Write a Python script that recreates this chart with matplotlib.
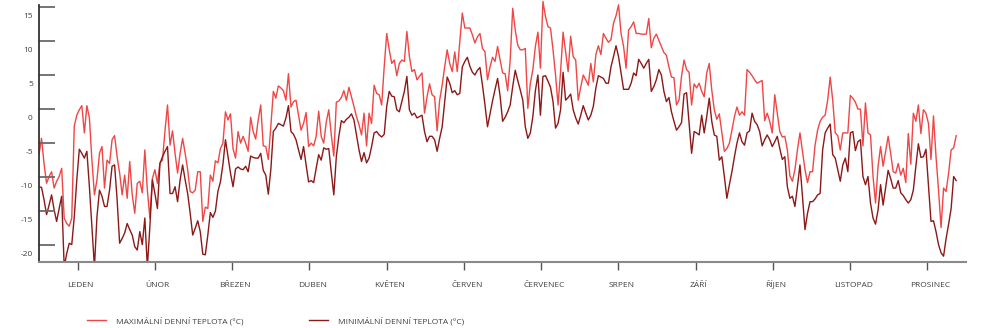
import numpy as np
import matplotlib
matplotlib.use("Agg")
import matplotlib.pyplot as plt
from matplotlib.lines import Line2D
from matplotlib.transforms import blended_transform_factory, ScaledTranslation

plt.rcParams['font.family'] = ['Open Sans', 'DejaVu Sans']

months = ["LEDEN", "ÚNOR", "BŘEZEN", "DUBEN", "KVĚTEN", "ČERVEN",
          "ČERVENEC", "SRPEN", "ZÁŘÍ", "ŘÍJEN", "LISTOPAD", "PROSINEC"]
y_ticks = [-20, -15, -10, -5, 0, 5, 10, 15]
series_labels = ["MAXIMÁLNÍ DENNÍ TEPLOTA (°C)", "MINIMÁLNÍ DENNÍ TEPLOTA (°C)"]

tmax = [
    -5.5, -3.1, -6.8, -9.7, -8.7, -8.0, -10.4, -9.4, -8.7, -7.5,
    -14.8, -15.6, -16.0, -14.8, -1.3, 0.3, 1.1, 1.7, -2.3, 1.7,
    -0.1, -6.3, -11.4, -9.2, -5.3, -4.3, -10.4, -6.3, -6.8, -3.3,
    -2.7, -5.8, -8.2, -11.4, -8.5, -11.9, -6.5, -11.4, -14.1, -9.7,
    -9.4, -11.1, -4.8, -10.7, -14.8, -9.0, -7.7, -9.7, -6.7, -6.3,
    -2.0, 1.8, -4.1, -2.0, -5.3, -8.2, -5.3, -3.1, -5.3, -7.7,
    -10.9, -11.1, -10.7,
    -8.0, -8.0, -15.3, -13.2, -13.4, -8.5, -9.4, -6.4, -6.7, -4.6,
    -3.8, 0.8, -0.4, 0.5, -4.6, -6.0, -2.1, -3.8, -2.8, -3.8,
    -5.0, 0.0, -2.1, -3.2, -0.4, 1.8, -4.2, -4.3, -6.2, -1.4,
    3.8, 2.8, 4.6, 4.3, 3.9, 2.5, 6.4, 1.5, 2.3, 2.5,
    0.3, -1.9, -0.9, 0.7, -4.3, -3.8, -4.2, -2.8, 0.9, -2.8,
    -3.8, -0.7, 1.1, -2.6, -5.7, 2.2, 2.4, 2.9, 3.9, 2.5,
    4.4,
    3.0, 1.6, 0.1, -1.1, -2.6, 0.6, -4.2, 0.6, -0.9, 4.7,
    3.5, 3.3, 1.8, 7.4, 12.3, 9.9, 7.9, 8.4, 6.1, 7.9,
    8.4, 8.2, 12.6, 8.9, 6.7, 7.0, 5.5, 6.0, 6.5, 0.6,
    3.0, 4.9, 3.3, 3.0, -2.0, 2.5, 4.7, 7.4, 9.9, 7.9,
    6.7, 9.6, 6.7, 11.1, 15.3, 13.1, 13.1, 13.1, 12.1, 10.9,
    11.8, 12.3, 10.1, 9.6, 5.5, 7.4, 8.8, 8.2, 10.4, 8.4,
    6.5, 6.4,
    3.9, 8.4, 16.0, 12.8, 10.6, 9.9, 9.9, 10.1, 1.3, 5.0,
    7.0, 10.4, 12.5, 7.2, 17.0, 14.8, 13.3, 13.1, 9.9, 6.2,
    1.8, 6.7, 12.5, 9.6, 6.7, 11.9, 8.9, 8.4, 2.5, 4.4,
    6.2, 5.5, 4.7, 7.9, 5.2, 9.2, 10.5, 9.2, 12.3, 11.6,
    11.0, 11.4, 13.8, 14.9, 16.5, 12.3, 10.4, 7.2, 12.8, 13.3,
    14.0, 12.3, 12.3, 12.2, 12.2, 12.2, 14.5, 10.2, 11.6, 12.2,
    11.3,
    10.4, 9.5, 9.1, 7.4, 5.9, 5.8, 1.8, 2.5, 6.0, 8.4,
    7.0, 6.6, 1.8, 4.9, 4.3, 5.0, 3.8, 3.0, 6.5, 7.9,
    4.0, 1.1, -0.3, 0.5, -2.3, -5.0, -4.6, -3.8, -1.9, 0.1,
    1.5, 0.3, 0.8, 0.3, 7.0, 6.6, 6.1, 5.5, 5.0, 5.2,
    5.4, -0.5, 0.6, -0.6, -2.3, 3.3, 0.6, -2.1, -2.9, -2.8,
    -4.8, -8.6, -9.4, -7.7, -4.8, -2.3, -5.0, -7.7, -9.6, -8.0,
    -8.0, -4.1,
    -1.9, -0.6, 0.0, 0.3, 2.5, 5.9, 2.5, -2.3, -2.7, -4.8,
    -2.3, -2.3, -2.3, 3.2, 2.8, 2.2, 1.2, 1.2, -4.2, 2.1,
    -2.3, -2.6, -8.7, -12.6, -7.2, -4.3, -7.2, -5.0, -2.8, -5.3,
    -8.0, -8.2, -6.8, -8.5, -7.5, -9.6, -2.4, -6.9, 0.6, -0.6,
    1.8, -2.4, 1.1, 0.6, -0.9, -6.2, 0.2, -5.8, -10.7, -16.2,
    -10.4, -10.9, -8.2, -4.8, -4.5, -2.7,
]

tmin = [
    -10.2, -10.3, -12.1, -14.3, -12.9, -11.4, -13.6, -15.3, -13.4, -11.6,
    -22.0, -20.0, -18.5, -18.7, -14.6, -9.2, -4.7, -5.3, -6.0, -5.0,
    -10.2, -16.1, -22.0, -14.6, -10.7, -11.6, -13.1, -13.1, -10.7, -7.2,
    -7.0, -12.1, -18.5, -17.8, -17.0, -15.6, -16.5, -17.3, -19.0, -19.5,
    -16.8, -18.7, -14.8, -22.0, -16.1, -9.2, -11.2, -13.4, -6.8, -5.8,
    -5.0, -4.3, -11.2, -11.2, -10.2, -12.4, -9.2, -7.0, -9.2, -11.2,
    -14.1, -17.3, -16.3,
    -15.2, -16.8, -20.1, -20.2, -17.3, -14.0, -14.7, -13.8, -10.9, -9.5,
    -6.9, -3.3, -5.8, -8.2, -10.2, -7.6, -7.3, -7.6, -7.7, -7.2,
    -8.0, -5.7, -5.9, -6.0, -6.0, -5.3, -7.8, -8.5, -11.3, -7.7,
    -2.1, -1.6, -0.9, -1.1, -1.3, -0.1, 1.7, -2.1, -2.5, -3.3,
    -4.8, -6.2, -4.3, -7.0, -9.5, -9.3, -9.6, -7.5, -5.5, -6.3,
    -4.5, -4.7, -4.6, -8.1, -11.4, -5.8, -2.8, -0.5, -0.8, -0.3,
    0.0,
    0.5, -0.4, -2.6, -4.8, -6.5, -5.2, -6.7, -6.0, -4.3, -2.3,
    -2.1, -2.6, -2.9, -2.5, 1.6, 3.8, 3.1, 3.0, 1.1, 0.8,
    2.3, 3.8, 6.0, 1.1, 0.3, 0.6, -0.1, 0.1, 0.3, -2.1,
    -3.6, -2.8, -2.8, -3.3, -5.0, -3.1, -1.4, 2.3, 5.9, 5.0,
    3.6, 3.9, 3.3, 3.5, 7.4, 8.2, 8.8, 7.5, 6.6, 6.2,
    6.9, 7.3, 4.7, 1.8, -1.4, 0.5, 2.4, 4.1, 5.7, 3.1,
    -0.6, 0.0,
    0.8, 1.8, 4.5, 6.9, 5.4, 4.0, 2.5, -1.4, -3.1, -2.3,
    0.1, 3.9, 6.2, 0.3, 6.0, 6.1, 5.3, 4.4, 2.3, -1.6,
    -0.9, 1.1, 6.6, 2.5, 2.9, 3.4, 1.1, -0.1, -1.0, 0.3,
    1.7, 0.6, -0.4, 0.3, 1.6, 4.3, 6.1, 5.9, 5.7, 5.0,
    5.0, 7.4, 8.9, 10.5, 8.9, 6.5, 4.1, 4.1, 4.1, 5.0,
    6.5, 6.1, 8.5, 7.9, 7.2, 7.9, 8.5, 3.8, 4.5, 5.5,
    7.0,
    6.2, 3.8, 2.3, 2.9, 0.8, -0.6, -1.9, -1.4, -0.8, 3.4,
    3.6, -0.9, -5.3, -2.1, -2.3, -2.6, 0.3, -2.3, 0.1, 2.8,
    -0.6, -2.6, -2.8, -6.3, -5.8, -8.7, -11.9, -9.9, -8.0, -5.8,
    -3.8, -2.3, -3.6, -4.1, -2.3, -2.0, 0.6, -0.6, -1.1, -2.1,
    -4.2, -3.3, -2.6, -3.3, -4.3, -3.6, -2.8, -4.6, -6.2, -5.8,
    -10.2, -11.9, -11.6, -13.1, -10.2, -7.0, -11.6, -16.5, -14.1, -12.4,
    -12.4, -12.0,
    -11.4, -11.2, -4.8, -2.3, -1.6, -1.0, -5.5, -6.0, -7.7, -9.4,
    -7.0, -6.0, -8.0, -2.3, -2.1, -4.9, -3.6, -3.3, -8.7, -9.9,
    -8.7, -12.6, -14.8, -15.7, -13.6, -9.9, -12.9, -10.4, -7.8, -9.0,
    -10.4, -10.4, -9.3, -11.1, -11.5, -12.1, -12.6, -12.1, -10.7, -7.2,
    -3.9, -5.9, -5.8, -4.7, -9.9, -15.3, -15.2, -16.8, -18.7, -19.9,
    -20.4, -17.8, -15.7, -13.4, -8.7, -9.3,
]

MAX_COLOR = '#f04646'
MIN_COLOR = '#8c1818'
TEXT_COLOR = '#404040'

W, H = 981, 328
fig = plt.figure(figsize=(W / 100, H / 100), dpi=100)
ax = fig.add_axes([39 / W, (H - 262.3) / H, 927 / W, 262.2 / H])

XMAX = 367.9
YMIN, YMAX = -21.3, 17.2

ax.plot(np.arange(len(tmax)), tmax, color=MAX_COLOR, lw=1.0, label=series_labels[0])
ax.plot(np.arange(len(tmin)), tmin, color=MIN_COLOR, lw=1.0, label=series_labels[1])

ax.set_xlim(0, XMAX)
ax.set_ylim(YMIN, YMAX)

for s in ('top', 'right'):
    ax.spines[s].set_visible(False)
ax.spines['left'].set_color('#333333')
ax.spines['left'].set_linewidth(1.3)
ax.spines['left'].set_bounds(YMIN, 16.5)
ax.spines['bottom'].set_color('#8a8a8a')
ax.spines['bottom'].set_linewidth(1.5)

month_pos = (np.arange(len(months)) + 0.5) * XMAX / len(months)
ax.set_xticks(month_pos)
ax.set_xticklabels([])
ax.tick_params(axis='x', direction='out', length=5.4, width=1.0, color='#555555')

# month labels with a common baseline below the ticks
lab_trans = blended_transform_factory(ax.transData, ax.transAxes) + \
    ScaledTranslation(3 / 100, -24.4 / 100, fig.dpi_scale_trans)
for xp, m in zip(month_pos, months):
    ax.text(xp, 0, m, transform=lab_trans, ha='center', va='baseline',
            fontsize=6, color=TEXT_COLOR, clip_on=False)

ax.set_yticks(y_ticks)
ax.set_yticklabels([str(v) for v in y_ticks])
ax.tick_params(axis='y', length=0, labelsize=6, labelcolor=TEXT_COLOR, pad=4.5)

# horizontal tick marks inside the axis, drawn slightly above each label
trans = blended_transform_factory(ax.transAxes, ax.transData) + \
    ScaledTranslation(0, 8 / 100, fig.dpi_scale_trans)
for v in y_ticks:
    ax.plot([0, 16 / 927], [v, v], transform=trans, color='#6a6a6a', lw=1.3,
            clip_on=False, solid_capstyle='butt')

handles = [Line2D([], [], color=MAX_COLOR, lw=1.0),
           Line2D([], [], color=MIN_COLOR, lw=1.0)]
leg = fig.legend(handles, series_labels, loc='center left',
                 bbox_to_anchor=(86.7 / W, 1 - 321 / H), ncol=2, frameon=False,
                 fontsize=6, handlelength=2.3, handletextpad=1.2,
                 columnspacing=7.9, borderpad=0, borderaxespad=0)
for t in leg.get_texts():
    t.set_color(TEXT_COLOR)

fig.savefig('out.png', dpi=100)
